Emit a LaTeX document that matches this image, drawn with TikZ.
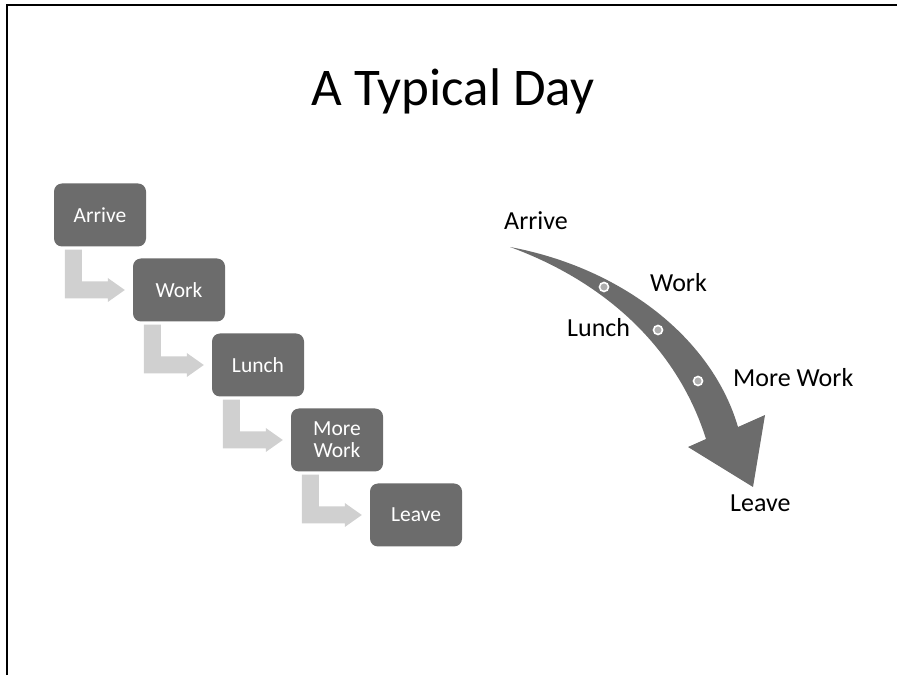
\documentclass[tikz,border=0pt]{standalone}
\usepackage{fontspec}
\setmainfont{Carlito}
\usetikzlibrary{calc}
\definecolor{boxgray}{RGB}{108,108,108}
\definecolor{stepgray}{RGB}{208,208,208}
\begin{document}
\begin{tikzpicture}[x=1pt, y=1pt,
  stepbox/.style={fill=boxgray, rounded corners=8pt, minimum width=92pt, minimum height=63pt, inner sep=2pt, text=white, align=center, font=\fontsize{21.5}{22}\selectfont},
  steparrow/.style={fill=stepgray},
  daydot/.style={circle, draw=white, line width=1.6pt, fill=boxgray!55, minimum size=9pt, inner sep=0pt},
  daylabel/.style={anchor=base west, inner sep=0pt, font=\fontsize{26}{30}\selectfont}]
  \useasboundingbox (0,0) rectangle (897,675);
  \draw[line width=1.5pt] (7,0) -- (7,670) -- (897,670);
  \node[anchor=base, font=\fontsize{53}{60}\selectfont] (title) at (453,569) {A Typical Day};
  % left: staircase
  \foreach \t [count=\i from 0] in {Arrive, Work, Lunch, {More\\Work}, Leave}
    \node[stepbox] (b\i) at ({100+79*\i},{460-75*\i}) {\t};
  \foreach \i [evaluate=\i as \j using int(\i+1)] in {0,...,3}
    \fill[steparrow] ($(b\i.south west)+(11,-3)$) -- ++(17,0) |- ($(b\j.west)+(-25,8.5)$) -- ++(0,3.5) -- ($(b\j.west)+(-8,0)$) -- ($(b\j.west)+(-25,-12)$) -- ++(0,3.5) -| ($(b\i.south west)+(11,-3)$) -- cycle;
  % right: curved arrow
  \fill[boxgray] (510,428) .. controls (622,407) and (712,337) .. (738,248) -- (765,260) -- (753,188) -- (688,228) -- (706,236) .. controls (678,325) and (608,392) .. (510,428) -- cycle;
  \foreach \x/\y [count=\k] in {604/388, 658/345, 698/294} \node[daydot] (dot\k) at (\x,\y) {};
  \node[daylabel] (arrive) at (504,445) {Arrive};
  \node[daylabel] (work) at (650,383) {Work};
  \node[daylabel] (lunch) at (567,338) {Lunch};
  \node[daylabel] (morework) at (733,288) {More Work};
  \node[daylabel] (leave) at (730,163) {Leave};
\end{tikzpicture}
\end{document}
